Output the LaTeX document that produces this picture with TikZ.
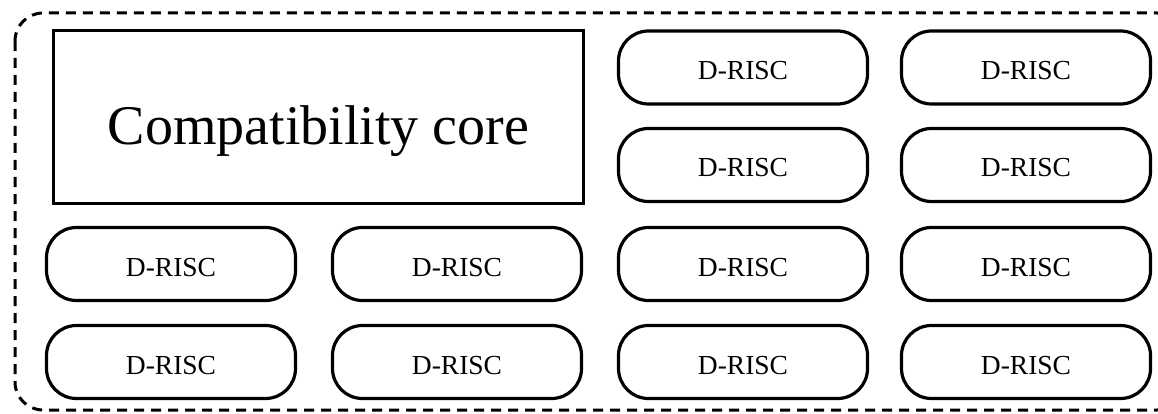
\documentclass[tikz,border=0pt]{standalone}
\usepackage{fontspec}
\setmainfont{Liberation Serif}
\begin{document}
\begin{tikzpicture}[x=1pt,y=-1pt,
  core/.style={draw, line width=3.2pt, rounded corners=30pt,
    minimum width=249pt, minimum height=73pt, inner sep=0pt,
    text height=24pt, text depth=0pt,
    font=\fontsize{27.5}{32}\selectfont},
  compat/.style={draw, line width=3.2pt, minimum width=530pt,
    minimum height=173pt, inner sep=0pt,
    text height=56pt, text depth=0pt,
    font=\fontsize{56}{64}\selectfont},
  chip/.style={draw, line width=3pt, dash pattern=on 10pt off 7pt,
    rounded corners=28pt}]
\useasboundingbox (0,0) rectangle (1158,414);
% chip boundary, open on the right
\draw[chip] (15,13) rectangle (1185,410);
% compatibility core
\node[compat] (cc) at (318.5,117) {Compatibility core};
% D-RISC cores
\node[core] (c1) at (743,67.5) {D-RISC};
\node[core] (c2) at (1026,67.5) {D-RISC};
\node[core] (c3) at (743,165) {D-RISC};
\node[core] (c4) at (1026,165) {D-RISC};
\node[core] (c5) at (171,264) {D-RISC};
\node[core] (c6) at (457,264) {D-RISC};
\node[core] (c7) at (743,264) {D-RISC};
\node[core] (c8) at (1026,264) {D-RISC};
\node[core] (c9) at (171,362) {D-RISC};
\node[core] (c10) at (457,362) {D-RISC};
\node[core] (c11) at (743,362) {D-RISC};
\node[core] (c12) at (1026,362) {D-RISC};
\end{tikzpicture}
\end{document}
